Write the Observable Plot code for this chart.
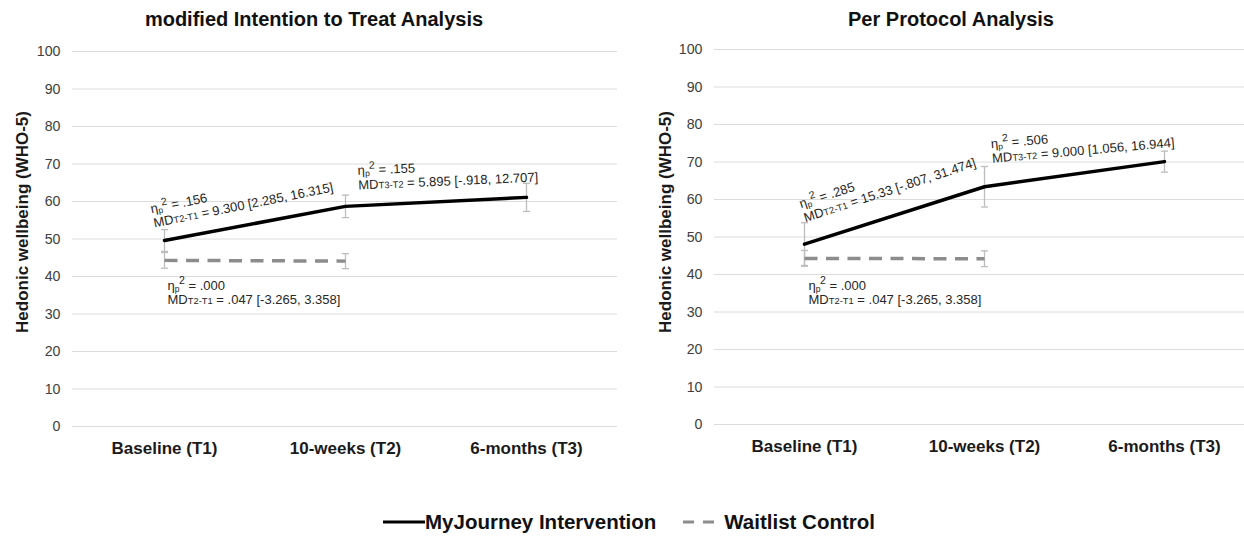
<!DOCTYPE html>
<html><head><meta charset="utf-8">
<script src="https://cdn.jsdelivr.net/npm/d3@7"></script>
<script src="https://cdn.jsdelivr.net/npm/@observablehq/plot@0.6"></script>
<style>
html,body{margin:0;padding:0;background:#fff;overflow:hidden;}
#wrap{position:relative;width:1244px;height:536px;overflow:hidden;font-family:"Liberation Sans",Arial,sans-serif;background:#fff;}
.title{position:absolute;top:9px;font-weight:bold;font-size:20px;line-height:20px;color:#111;white-space:nowrap;transform:translateX(-50%);}
.panel{position:absolute;}
.panel svg{max-width:none !important;}
#legend{position:absolute;left:383px;top:509px;height:26px;display:flex;align-items:center;font-weight:bold;font-size:20.5px;color:#111;white-space:nowrap;}
</style></head><body>
<div id="wrap">
  <div class="title" id="title1" style="left:314px"></div>
  <div class="title" id="title2" style="left:951px"></div>
  <div class="panel" id="p1" style="left:0;top:30px;width:622px"></div>
  <div class="panel" id="p2" style="left:622px;top:28px;width:632px"></div>
  <div id="legend"></div>
</div>
<script>
// ---------------- data ----------------
const panelTitles = ["modified Intention to Treat Analysis", "Per Protocol Analysis"];
const yAxisLabel = "Hedonic wellbeing (WHO-5)";
const timepoints = ["Baseline (T1)", "10-weeks (T2)", "6-months (T3)"];
const yTicks = [0, 10, 20, 30, 40, 50, 60, 70, 80, 90, 100];
const seriesNames = ["MyJourney Intervention", "Waitlist Control"];

// modified Intention to Treat
const mittIntervention = [49.6, 58.7, 61.1];
const mittInterventionErr = [2.9, 3.0, 3.75];
const mittControl = [44.3, 44.1];
const mittControlErr = [2.1, 2.0];
const mittNotes = [
  "η_p^2 = .156\nMD{T2-T1} = 9.300 [2.285, 16.315]",
  "η_p^2 = .155\nMD{T3-T2} = 5.895 [-.918, 12.707]",
  "η_p^2 = .000\nMD{T2-T1} = .047 [-3.265, 3.358]"
];

// Per Protocol
const ppIntervention = [48.1, 63.4, 70.1];
const ppInterventionErr = [5.7, 5.4, 2.8];
const ppControl = [44.3, 44.2];
const ppControlErr = [2.1, 2.1];
const ppNotes = [
  "η_p^2 = .285\nMD{T2-T1} = 15.33 [-.807, 31.474]",
  "η_p^2 = .506\nMD{T3-T2} = 9.000 [1.056, 16.944]",
  "η_p^2 = .000\nMD{T2-T1} = .047 [-3.265, 3.358]"
];

// ---------------- helpers ----------------
const FONT = "Liberation Sans, Arial, sans-serif";
const rows = (means, err, series) => means.map((m, i) => ({t: timepoints[i], v: m, lo: m - err[i], hi: m + err[i], series}));
const capSymbol = {draw(ctx, size) { const r = Math.sqrt(size / Math.PI); ctx.moveTo(-r, 0); ctx.lineTo(r, 0); }};

function note(text, row, rotate, dx, dy) {
  return Plot.text([{t: row.t, v: row.v, text}], {
    x: "t", y: "v", text: "text", rotate, dx, dy,
    textAnchor: "start", lineAnchor: "bottom", lineHeight: 1.12,
    fontSize: 13, fill: "#262626"
  });
}

function richify(el) {
  const ns = "http://www.w3.org/2000/svg";
  const s = el.textContent;
  el.textContent = "";
  const add = (txt, attrs) => {
    const sp = document.createElementNS(ns, "tspan");
    for (const k in attrs) sp.setAttribute(k, attrs[k]);
    sp.textContent = txt;
    el.appendChild(sp);
  };
  const re = /_(\w)\^(\w)|\{([^}]*)\}/g;
  let last = 0, m, pending = 0;
  while ((m = re.exec(s))) {
    if (m.index > last) { add(s.slice(last, m.index), pending ? {dy: pending} : {}); pending = 0; }
    if (m[1]) {
      add(m[1], {dy: 1.8, "font-size": 8.5});
      add(m[2], {dy: -7.5, "font-size": 10.5, dx: -0.5});
      pending = 5.7;
    } else {
      add(m[3], {"font-size": 9.4});
    }
    last = re.lastIndex;
  }
  if (last < s.length) add(s.slice(last), pending ? {dy: pending} : {});
}

function formatNotes(svg) {
  svg.querySelectorAll("text").forEach(t => {
    if (!/[η{]/.test(t.textContent)) return;
    const spans = Array.from(t.children).filter(c => c.tagName === "tspan");
    (spans.length ? spans : [t]).forEach(richify);
  });
}

function panel({width, marginLeft, marginRight, intMeans, intErr, ctlMeans, ctlErr, notes, placements, labelDx, labelDy}) {
  const intRows = rows(intMeans, intErr, seriesNames[0]);
  const ctlRows = rows(ctlMeans, ctlErr, seriesNames[1]);
  const allRows = intRows.concat(ctlRows);
  const svg = Plot.plot({
    width, height: 430,
    marginTop: 21, marginBottom: 34, marginLeft, marginRight,
    style: {fontFamily: FONT, background: "transparent", overflow: "visible", maxWidth: "none"},
    x: {type: "point", domain: timepoints, padding: 0.5},
    y: {domain: [0, 100]},
    marks: [
      Plot.gridY(yTicks, {stroke: "#dcdcdc", strokeOpacity: 1, strokeWidth: 1}),
      Plot.axisY(yTicks, {tickSize: 0, tickPadding: 12, fontSize: 14.2, color: "#404040", label: null}),
      Plot.axisX({tickSize: 0, tickPadding: 15, fontSize: 17, fontWeight: "bold", color: "#1a1a1a", label: null}),
      Plot.text([yAxisLabel], {frameAnchor: "left", dx: labelDx, dy: labelDy, rotate: -90, fontSize: 17, fontWeight: "bold", fill: "#1a1a1a", textAnchor: "middle", lineAnchor: "middle"}),
      Plot.ruleX(allRows, {x: "t", y1: "lo", y2: "hi", stroke: "#bdbdbd", strokeWidth: 1.3}),
      Plot.dot(allRows, {x: "t", y: "lo", symbol: capSymbol, r: 3.5, stroke: "#bdbdbd", fill: "none", strokeWidth: 1.3}),
      Plot.dot(allRows, {x: "t", y: "hi", symbol: capSymbol, r: 3.5, stroke: "#bdbdbd", fill: "none", strokeWidth: 1.3}),
      Plot.line(ctlRows, {x: "t", y: "v", stroke: "#8c8c8c", strokeWidth: 3.5, strokeDasharray: "13,8.5", strokeLinecap: "butt"}),
      Plot.line(intRows, {x: "t", y: "v", stroke: "#000", strokeWidth: 3.5, strokeLinejoin: "round"}),
      ...placements.map((p, i) => note(notes[i], (p.row === "int" ? intRows : ctlRows)[p.i], p.rotate, p.dx, p.dy))
    ]
  });
  formatNotes(svg);
  return svg;
}

document.getElementById("title1").textContent = panelTitles[0];
document.getElementById("title2").textContent = panelTitles[1];

document.getElementById("p1").appendChild(panel({
  width: 622, marginLeft: 72, marginRight: 5,
  intMeans: mittIntervention, intErr: mittInterventionErr, ctlMeans: mittControl, ctlErr: mittControlErr,
  notes: mittNotes,
  placements: [
    {row: "int", i: 0, rotate: -11.4, dx: -10, dy: -13},
    {row: "int", i: 1, rotate: -2.5, dx: 13, dy: -17},
    {row: "ctl", i: 0, rotate: 0, dx: 3, dy: 44}
  ],
  labelDx: -50, labelDy: -17
}));

document.getElementById("p2").appendChild(panel({
  width: 632, marginLeft: 92, marginRight: 0,
  intMeans: ppIntervention, intErr: ppInterventionErr, ctlMeans: ppControl, ctlErr: ppControlErr,
  notes: ppNotes,
  placements: [
    {row: "int", i: 0, rotate: -18, dx: 1, dy: -22},
    {row: "int", i: 1, rotate: -5, dx: 8, dy: -24},
    {row: "ctl", i: 0, rotate: 0, dx: 4, dy: 46}
  ],
  labelDx: -49, labelDy: -15
}));

// legend
const legend = document.getElementById("legend");
legend.innerHTML =
  `<svg width="42" height="10" style="display:block"><line x1="0" x2="42" y1="5" y2="5" stroke="#000" stroke-width="3"/></svg>` +
  `<span>${seriesNames[0]}</span>` +
  `<svg width="31" height="10" style="display:block;margin-left:27px"><line x1="0" x2="31" y1="5" y2="5" stroke="#8c8c8c" stroke-width="3" stroke-dasharray="11,9"/></svg>` +
  `<span style="margin-left:10px">${seriesNames[1]}</span>`;
</script>
</body></html>
